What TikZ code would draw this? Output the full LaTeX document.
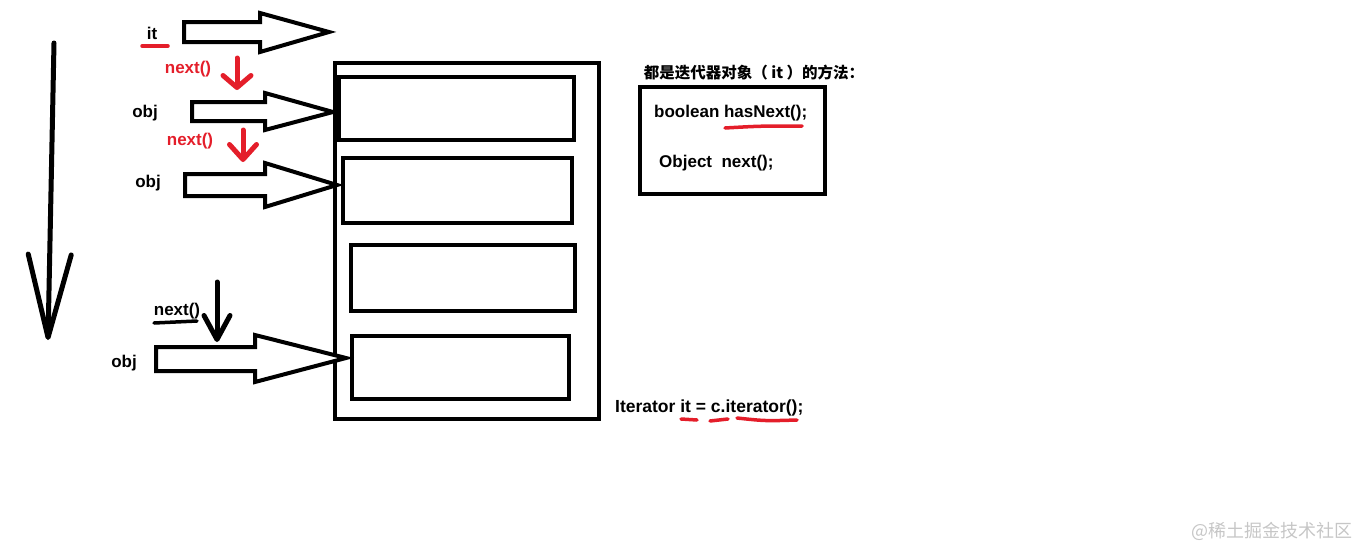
\documentclass[tikz,border=0pt]{standalone}
\usepackage{fontspec}
\setmainfont{Liberation Sans}
\newfontfamily\cjk{Noto Sans CJK SC}
\usetikzlibrary{arrows.meta}
\definecolor{penred}{RGB}{228,30,42}

\begin{document}
\begin{tikzpicture}[x=1pt, y=-1pt,
  every node/.style={font=\bfseries\fontsize{17}{20}\selectfont, inner sep=0pt},
  box/.style={draw, line width=4.5pt, anchor=north west, outer sep=0pt},
  blockarrow/.style={draw, line width=4pt, line join=miter, fill=white},
  pen/.style={line width=5pt, line cap=round},
  underline/.style={penred, line width=3.5pt, line cap=round}]

  \useasboundingbox (0,0) rectangle (1359,549);

  % ---- 左侧: 遍历方向的大箭头 ----
  \draw[pen, -{Straight Barb[length=83pt, width=43pt, round]}] (54,43) -- (48,340);

  % ---- 集合 c 与其中的元素 ----
  \node[box, minimum width=264, minimum height=356] (coll) at (335,63) {};
  \node[box, minimum width=235, minimum height=63] (cell1) at (339,77) {};
  \node[box, minimum width=229, minimum height=65] (cell2) at (343,158) {};
  \node[box, minimum width=224, minimum height=66] (cell3) at (351,245) {};
  \node[box, minimum width=217, minimum height=63] (cell4) at (352,336) {};

  % 箭头尖端(斜接会外凸, 略往回收)
  \coordinate (tip0) at (329,32);
  \coordinate (tip1) at ([xshift=-6]cell1.west |- 0,112);
  \coordinate (tip2) at ([xshift=-6]cell2.west |- 0,185);
  \coordinate (tip3) at ([xshift=-6]cell4.west |- 0,358);

  % ---- 迭代器 it 与每次 next() ----
  \node (itlbl) at (152,33) {it};
  \draw[underline] (142,46) -- (168,46);
  \draw[blockarrow] (184,22) -- (260,22) -- (260,13) -- (tip0) -- (260,52) -- (260,42) -- (184,42) -- cycle;

  \node[penred] (next1) at (188,69) {next()};
  \draw[pen, penred, -{Straight Barb[length=12pt, width=28pt, round]}] (237,58) -- (237,90);

  \node (obj1) at (145,113) {obj};
  \draw[blockarrow] (192,102) -- (265,102) -- (265,93) -- (tip1) -- (265,130) -- (265,121) -- (192,121) -- cycle;

  \node[penred] (next2) at (190,141) {next()};
  \draw[pen, penred, -{Straight Barb[length=15pt, width=27pt, round]}] (243,130) -- (243,162);

  \node (obj2) at (148,183) {obj};
  \draw[blockarrow] (185,174) -- (265,174) -- (265,163) -- (tip2) -- (265,207) -- (265,196) -- (185,196) -- cycle;

  \node (next3) at (177,311) {next()};
  \draw[line width=3.5pt, line cap=round] (154,323) -- (197,321);
  \draw[pen, -{Straight Barb[length=24pt, width=26pt, round]}] (217,282) -- (217,342);

  \node (obj3) at (124,363) {obj};
  \draw[blockarrow] (156,347) -- (255,347) -- (255,335) -- (tip3) -- (255,382) -- (255,371) -- (156,371) -- cycle;

  % ---- 右侧: 迭代器的方法 ----
  \node[font=\bfseries\fontsize{15.5}{18}\selectfont] (title) at (754,73) {\cjk 都是迭代器对象（ it ）的方法：};
  \node[box, minimum width=185, minimum height=107] (methods) at (640,87) {};
  \node[anchor=west] (hasnext) at (654,113) {boolean hasNext();};
  \draw[underline] (725,128) .. controls (760,126) .. (802,126);
  \node[anchor=west] (nextm) at (659,163) {Object\ \ next();};

  \node[anchor=west, font=\bfseries\fontsize{17.5}{20}\selectfont] (decl) at (615,408) {Iterator it = c.iterator();};
  \draw[underline] (681,419) -- (697,420);
  \draw[underline] (710,421) -- (728,419);
  \draw[underline] (737,418) .. controls (765,421) .. (797,420);

  % 水印
  \node[font=\cjk\fontsize{18}{20}\selectfont, text=gray!45] (mark) at (1272,531) {@稀土掘金技术社区};

\end{tikzpicture}
\end{document}
